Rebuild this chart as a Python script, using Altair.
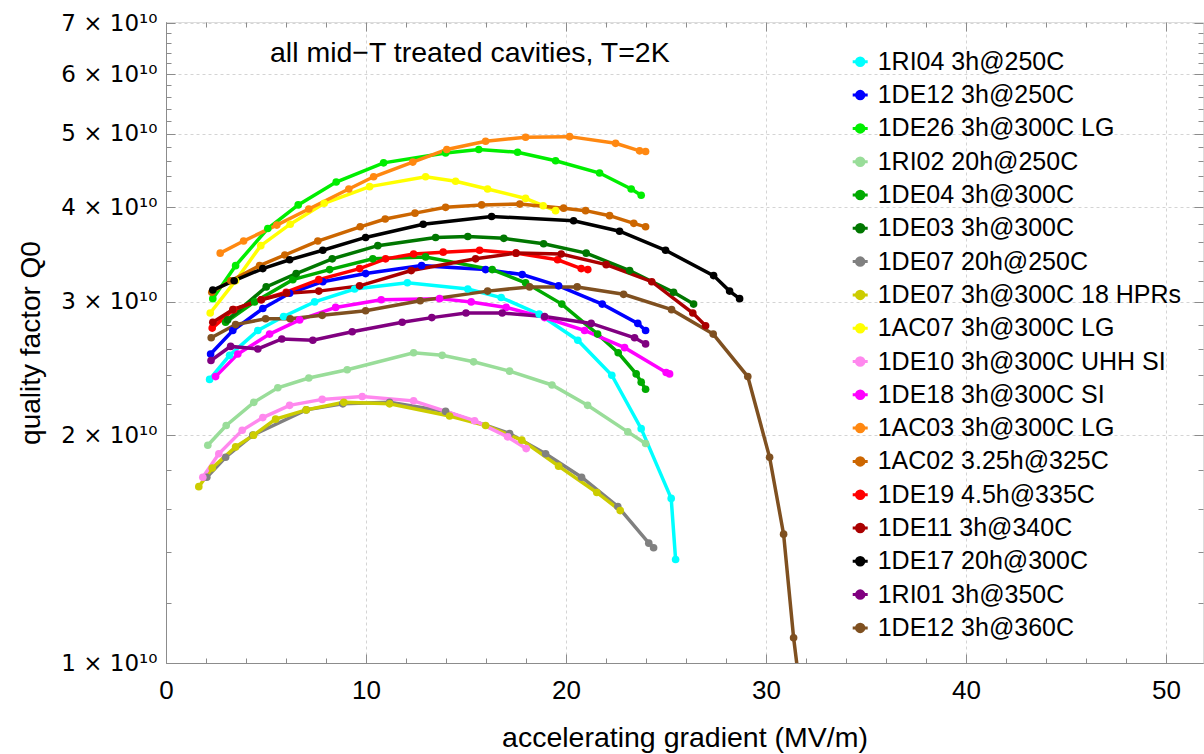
import altair as alt
import pandas as pd

FONT = "Liberation Sans, Arial, Helvetica, sans-serif"
SUP_FONT = "DejaVu Sans, Liberation Sans, sans-serif"

names = [
    "1RI04 3h@250C", "1DE12 3h@250C", "1DE26 3h@300C LG", "1RI02 20h@250C",
    "1DE04 3h@300C", "1DE03 3h@300C", "1DE07 20h@250C", "1DE07 3h@300C 18 HPRs",
    "1AC07 3h@300C LG", "1DE10 3h@300C UHH SI", "1DE18 3h@300C SI", "1AC03 3h@300C LG",
    "1AC02 3.25h@325C", "1DE19 4.5h@335C", "1DE11 3h@340C", "1DE17 20h@300C",
    "1RI01 3h@350C", "1DE12 3h@360C",
]
colors = [
    "#00ffff", "#0000ff", "#00ee00", "#99dd99",
    "#00aa00", "#007700", "#808080", "#cccc00",
    "#ffff00", "#ff88ee", "#ff00ff", "#ff8811",
    "#cc6600", "#ff0000", "#aa0000", "#000000",
    "#800080", "#7f5020",
]

# accelerating gradient (MV/m) and Q0 (in units of 1e10) per cavity test
x_1RI04 = [2.18, 3.18, 4.59, 5.88, 7.43, 9.43, 12.07, 15.09, 16.76, 18.66, 20.59, 22.29, 23.76, 25.26, 25.48]
q_1RI04 = [2.37, 2.55, 2.75, 2.87, 3.00, 3.12, 3.18, 3.12, 3.04, 2.89, 2.67, 2.40, 2.04, 1.65, 1.37]

x_1DE12a = [2.23, 3.34, 4.84, 6.18, 7.84, 9.98, 12.78, 15.98, 17.81, 19.63, 21.81, 23.59, 23.98]
q_1DE12a = [2.56, 2.75, 2.94, 3.08, 3.19, 3.27, 3.35, 3.31, 3.26, 3.15, 2.98, 2.81, 2.75]

x_1DE26 = [2.34, 3.48, 5.09, 6.61, 8.51, 10.88, 13.98, 15.64, 17.58, 19.48, 21.68, 23.26, 23.76]
q_1DE26 = [3.03, 3.35, 3.75, 4.03, 4.32, 4.58, 4.72, 4.77, 4.73, 4.61, 4.44, 4.23, 4.15]

x_1RI02 = [2.09, 3.01, 4.39, 5.59, 7.14, 9.06, 12.38, 13.81, 15.38, 17.18, 19.30, 21.08, 23.09, 23.98]
q_1RI02 = [1.94, 2.06, 2.21, 2.31, 2.38, 2.44, 2.57, 2.55, 2.50, 2.43, 2.33, 2.19, 2.02, 1.95]

x_1DE04 = [2.98, 4.43, 6.34, 8.18, 10.34, 12.98, 16.31, 17.98, 19.79, 21.58, 22.61, 23.51, 23.76, 23.98]
q_1DE04 = [2.82, 3.00, 3.21, 3.31, 3.42, 3.44, 3.31, 3.18, 2.98, 2.72, 2.57, 2.41, 2.35, 2.30]

x_1DE03 = [3.08, 5.01, 6.51, 8.31, 10.59, 13.48, 15.09, 16.89, 18.88, 21.01, 23.18, 25.38, 26.38]
q_1DE03 = [2.84, 3.14, 3.27, 3.42, 3.56, 3.65, 3.66, 3.64, 3.58, 3.48, 3.30, 3.09, 2.98]

x_1DE07a = [2.04, 2.98, 4.34, 7.01, 8.84, 11.18, 13.98, 17.18, 18.98, 20.78, 22.59, 24.14, 24.38]
q_1DE07a = [1.76, 1.87, 2.00, 2.16, 2.20, 2.21, 2.15, 2.01, 1.89, 1.76, 1.61, 1.44, 1.42]

x_1DE07b = [1.64, 2.31, 3.48, 4.38, 5.48, 7.01, 8.89, 11.18, 14.18, 15.98, 17.79, 19.63, 21.54, 22.71]
q_1DE07b = [1.71, 1.81, 1.93, 2.00, 2.10, 2.16, 2.21, 2.20, 2.12, 2.06, 1.97, 1.82, 1.68, 1.59]

x_1AC07 = [2.21, 3.48, 4.74, 6.21, 7.91, 10.18, 12.98, 14.48, 16.08, 17.98, 18.86, 19.48]
q_1AC07 = [2.90, 3.20, 3.56, 3.80, 4.05, 4.26, 4.39, 4.33, 4.23, 4.11, 4.02, 3.96]

x_1DE10 = [1.84, 2.64, 3.81, 4.84, 6.18, 7.81, 9.81, 12.38, 15.43, 17.08, 18.01]
q_1DE10 = [1.76, 1.89, 2.03, 2.11, 2.19, 2.23, 2.25, 2.22, 2.09, 1.99, 1.92]

x_1DE18 = [2.48, 3.59, 5.18, 6.68, 8.48, 10.76, 13.68, 15.26, 17.01, 18.93, 20.93, 22.93, 25.01, 25.18]
q_1DE18 = [2.39, 2.56, 2.72, 2.84, 2.95, 3.02, 3.03, 3.00, 2.95, 2.86, 2.75, 2.61, 2.42, 2.41]

x_1AC03 = [2.71, 3.88, 5.54, 7.14, 9.14, 10.38, 12.34, 14.04, 15.98, 17.98, 20.18, 22.48, 23.68, 23.98]
q_1AC03 = [3.48, 3.61, 3.79, 3.98, 4.23, 4.39, 4.59, 4.77, 4.89, 4.95, 4.96, 4.86, 4.75, 4.74]

x_1AC02 = [2.29, 3.24, 4.68, 5.94, 7.59, 9.71, 10.96, 12.45, 13.98, 15.78, 17.69, 19.88, 20.98, 22.18, 23.39, 23.98]
q_1AC02 = [3.09, 3.20, 3.35, 3.46, 3.61, 3.77, 3.86, 3.93, 4.00, 4.03, 4.04, 3.99, 3.96, 3.90, 3.81, 3.77]

x_1DE19 = [2.31, 3.38, 4.76, 6.01, 7.64, 9.68, 10.98, 12.38, 13.86, 15.68, 17.49, 19.58, 20.76, 21.09]
q_1DE19 = [2.77, 2.93, 3.02, 3.09, 3.21, 3.32, 3.42, 3.47, 3.49, 3.51, 3.48, 3.41, 3.32, 3.31]

x_1DE11 = [2.34, 3.34, 4.76, 6.03, 7.64, 9.68, 12.26, 15.48, 17.51, 19.76, 22.01, 24.29, 26.34, 26.98]
q_1DE11 = [2.82, 2.93, 3.02, 3.08, 3.10, 3.15, 3.30, 3.42, 3.48, 3.47, 3.36, 3.19, 2.90, 2.79]

x_1DE17 = [2.34, 3.41, 4.84, 6.18, 7.84, 9.98, 12.86, 16.28, 20.38, 22.68, 24.98, 27.38, 28.18, 28.68]
q_1DE17 = [3.11, 3.20, 3.32, 3.41, 3.51, 3.65, 3.80, 3.89, 3.84, 3.72, 3.51, 3.25, 3.10, 3.03]

x_1RI01 = [2.25, 3.23, 4.59, 5.79, 7.34, 9.31, 11.81, 13.29, 15.00, 16.81, 18.93, 21.26, 23.43, 23.98]
q_1RI01 = [2.51, 2.62, 2.60, 2.68, 2.67, 2.74, 2.82, 2.86, 2.90, 2.90, 2.87, 2.81, 2.69, 2.64]

x_1DE12b = [2.26, 3.48, 4.98, 6.21, 7.81, 9.98, 12.71, 16.08, 18.18, 20.56, 22.88, 25.28, 27.36, 29.09, 30.18, 30.88, 31.38, 31.75]
q_1DE12b = [2.69, 2.80, 2.85, 2.85, 2.88, 2.92, 3.01, 3.10, 3.14, 3.14, 3.07, 2.93, 2.72, 2.39, 1.87, 1.48, 1.08, 0.90]

series_x = [x_1RI04, x_1DE12a, x_1DE26, x_1RI02, x_1DE04, x_1DE03, x_1DE07a, x_1DE07b, x_1AC07,
            x_1DE10, x_1DE18, x_1AC03, x_1AC02, x_1DE19, x_1DE11, x_1DE17, x_1RI01, x_1DE12b]
series_q = [q_1RI04, q_1DE12a, q_1DE26, q_1RI02, q_1DE04, q_1DE03, q_1DE07a, q_1DE07b, q_1AC07,
            q_1DE10, q_1DE18, q_1AC03, q_1AC02, q_1DE19, q_1DE11, q_1DE17, q_1RI01, q_1DE12b]

# axis ticks
x_major = [0, 10, 20, 30, 40, 50]
x_minor = [2, 4, 6, 8, 12, 14, 16, 18, 22, 24, 26, 28, 32, 34, 36, 38, 42, 44, 46, 48]
y_major = [1, 2, 3, 4, 5, 6, 7]
y_minor = [1.2, 1.4, 1.6, 1.8, 2.2, 2.4, 2.6, 2.8, 3.2, 3.4, 3.6, 3.8, 4.2, 4.4, 4.6, 4.8,
           5.2, 5.4, 5.6, 5.8, 6.2, 6.4, 6.6, 6.8]

rows = []
for k, (nm, xs, qs) in enumerate(zip(names, series_x, series_q)):
    for i, (a, b) in enumerate(zip(xs, qs)):
        rows.append({"series": nm, "E": a, "Q0": b, "i": i, "k": k})
df = pd.DataFrame(rows)

AXIS_GRAY = "#8c8c8c"
W, H = 1037, 641
MAJOR, MINOR = 9, 5

# main axes: labels, titles, grid (no ticks)
x_axis = alt.Axis(
    orient="bottom", values=x_major,
    title="accelerating gradient (MV/m)",
    labelFont=FONT, labelFontSize=26, labelColor="black", labelPadding=14,
    labelFlush=False, labelOverlap=False, ticks=False,
    titleFont=FONT, titleFontSize=28.5, titleFontWeight="normal", titleColor="black",
    titleY=83, titleBaseline="alphabetic",
    domainColor=AXIS_GRAY,
    grid=True, gridColor="#d4d4d4", gridDash=[3, 3],
)
y_axis = alt.Axis(
    orient="left", values=y_major,
    title="quality factor Q0",
    labelExpr="datum.value + ' × 10¹⁰'",
    labelFont=SUP_FONT, labelFontSize=23, labelColor="black", labelPadding=9,
    labelFlush=False, labelOverlap=False, ticks=False,
    titleFont=FONT, titleFontSize=28, titleFontWeight="normal", titleColor="black",
    titleX=-135, titleBaseline="middle",
    domainColor=AXIS_GRAY,
    grid=True, gridColor="#d4d4d4", gridDash=[3, 3],
)


def tick_axis(orient, values, size, offset):
    # ticks only, pointing into the plot frame
    return alt.Axis(orient=orient, values=values, offset=offset, labels=False, title=None,
                    grid=False, domain=False, tickSize=size, tickColor=AXIS_GRAY)


legend_symbol = "M-1,0L1,0M0.5,0A0.5,0.5,0,1,1,-0.5,0A0.5,0.5,0,1,1,0.5,0Z"

color = alt.Color(
    "series:N",
    scale=alt.Scale(domain=names, range=colors),
    sort=names,
    legend=alt.Legend(
        title=None, orient="none", legendX=681.7, legendY=27.3,
        labelFont=FONT, labelFontSize=25, labelColor="black", labelLimit=500,
        labelOffset=5, rowPadding=7.3, padding=0,
        symbolType=legend_symbol, symbolSize=225, symbolStrokeWidth=3,
        symbolOpacity=1,
    ),
)

x_scale = alt.Scale(domain=[0, 51.85], nice=False, zero=False)
y_scale = alt.Scale(type="log", domain=[1, 7.03], nice=False)

base = alt.Chart(df)


def xy(xa, ya):
    return dict(x=alt.X("E:Q", scale=x_scale, axis=xa), y=alt.Y("Q0:Q", scale=y_scale, axis=ya))


lines = base.mark_line(strokeWidth=3.5, clip=True).encode(
    color=color, order=alt.Order("i:Q"), **xy(x_axis, y_axis)
)
points = base.mark_circle(size=58, opacity=1, clip=True).encode(
    color=color,
    **xy(tick_axis("top", x_major, MAJOR, -H), tick_axis("right", y_major, MAJOR, -W)),
)
frame1 = base.mark_circle(opacity=0, clip=True).encode(
    **xy(tick_axis("top", x_minor, MINOR, -H), tick_axis("right", y_minor, MINOR, -W))
)
frame2 = base.mark_circle(opacity=0, clip=True).encode(
    **xy(tick_axis("bottom", x_major, MAJOR, -H), tick_axis("left", y_major, MAJOR, -W))
)
frame3 = base.mark_circle(opacity=0, clip=True).encode(
    **xy(tick_axis("bottom", x_minor, MINOR, -H), tick_axis("left", y_minor, MINOR, -W))
)

chart = alt.layer(lines, points, frame1, frame2, frame3).resolve_axis(
    x="independent", y="independent"
).properties(
    width=W,
    height=H,
    padding={"left": 166, "top": 22, "right": 1, "bottom": 91},
    autosize=alt.AutoSizeParams(type="none"),
    title=alt.TitleParams(
        "all mid\u2212T treated cavities, T=2K",
        anchor="start", orient="top", frame="group", offset=0,
        dx=104, dy=78, baseline="alphabetic",
        font=FONT, fontSize=28.5, fontWeight="normal", color="black",
    ),
).configure_view(stroke=AXIS_GRAY, strokeWidth=1).configure(background="white")

chart.save("out.html", embed_options={"renderer": "svg", "actions": False})
